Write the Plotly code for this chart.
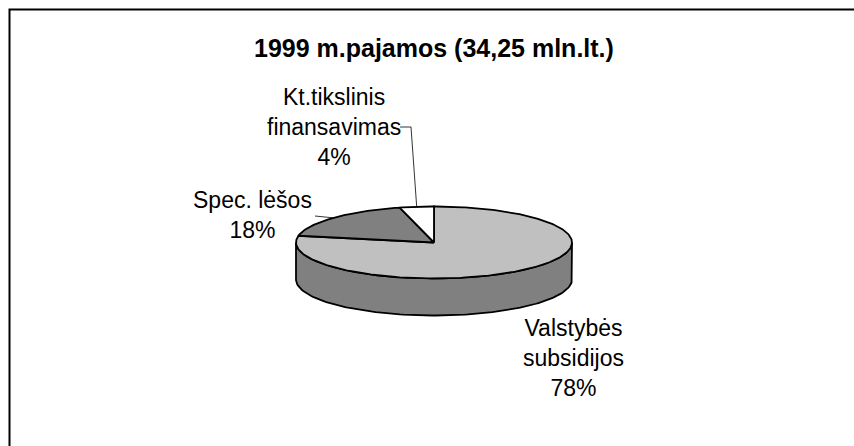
import numpy as np
import plotly.graph_objects as go

# 1999 income structure
labels = ["Valstybės<br>subsidijos", "Spec. lėšos", "Kt.tikslinis<br>finansavimas"]
shares = [78, 18, 4]
top_colors = ["#c0c0c0", "#808080", "#ffffff"]
side_color = "#808080"

title = "1999 m.pajamos (34,25 mln.lt.)"

# pie geometry in pixel space (x to the right, y downward)
cx, cy = 434, 242.5
rx, ry = 138, 36
depth = 37


def ell(theta_deg, dy=0):
    t = np.radians(theta_deg)
    return cx + rx * np.cos(t), cy - ry * np.sin(t) + dy


fig = go.Figure()

# side wall (front half of the disc)
th = np.linspace(180, 360, 120)
x_top, y_top = ell(th)
x_bot, y_bot = ell(th[::-1], depth)
fig.add_trace(go.Scatter(
    x=np.concatenate([x_top, x_bot, x_top[:1]]),
    y=np.concatenate([y_top, y_bot, y_top[:1]]),
    mode="lines", fill="toself", fillcolor=side_color,
    line=dict(color="black", width=1.8), hoverinfo="skip", showlegend=False,
))

# top face slices, clockwise from 12 o'clock
start = 90.0
mids = []
for lab, val, col in zip(labels, shares, top_colors):
    end = start - val / sum(shares) * 360
    th = np.linspace(start, end, max(int(abs(end - start)), 4))
    xs, ys = ell(th)
    fig.add_trace(go.Scatter(
        x=np.concatenate([[cx], xs, [cx]]),
        y=np.concatenate([[cy], ys, [cy]]),
        mode="lines", fill="toself", fillcolor=col,
        line=dict(color="black", width=1.8), hoverinfo="skip", showlegend=False,
    ))
    mids.append((start + end) / 2)
    start = end

font = dict(family="Liberation Sans, Arial, sans-serif", size=23, color="black")

# labels
lab_pos = [(573, 358), (252, 215), (334, 127)]
for lab, val, (lx, ly) in zip(labels, shares, lab_pos):
    fig.add_annotation(x=lx, y=ly, text=f"{lab}<br>{val}%", showarrow=False,
                       font=font, align="center", xanchor="center", yanchor="middle")

# leader lines
mx, my = ell(mids[2])
fig.add_trace(go.Scatter(x=[400, 411, mx], y=[127, 127, my], mode="lines",
                         line=dict(color="black", width=0.8), hoverinfo="skip",
                         showlegend=False))
mx, my = ell(mids[1])
fig.add_trace(go.Scatter(x=[315, mx], y=[216, my], mode="lines",
                         line=dict(color="black", width=0.8), hoverinfo="skip",
                         showlegend=False))

# chart area border (right and bottom sides fall outside the view)
fig.add_shape(type="rect", xref="paper", yref="paper", x0=9.5 / 854, y0=1 - 9.5 / 446,
              x1=1.05, y1=-0.05, line=dict(color="black", width=2))

fig.add_annotation(x=434, y=48, text=f"<b>{title}</b>", showarrow=False,
                   font=dict(family="Liberation Sans, Arial, sans-serif", size=25,
                             color="black"),
                   xanchor="center", yanchor="middle")

fig.update_layout(
    width=854, height=446,
    margin=dict(l=0, r=0, t=0, b=0),
    paper_bgcolor="white", plot_bgcolor="white",
    xaxis=dict(range=[0, 854], visible=False, fixedrange=True),
    yaxis=dict(range=[446, 0], visible=False, fixedrange=True),
)

fig.write_html("out.html", config={"displayModeBar": False},
               post_script="document.body.style.margin='0';"
                           "document.body.style.overflow='hidden';")
